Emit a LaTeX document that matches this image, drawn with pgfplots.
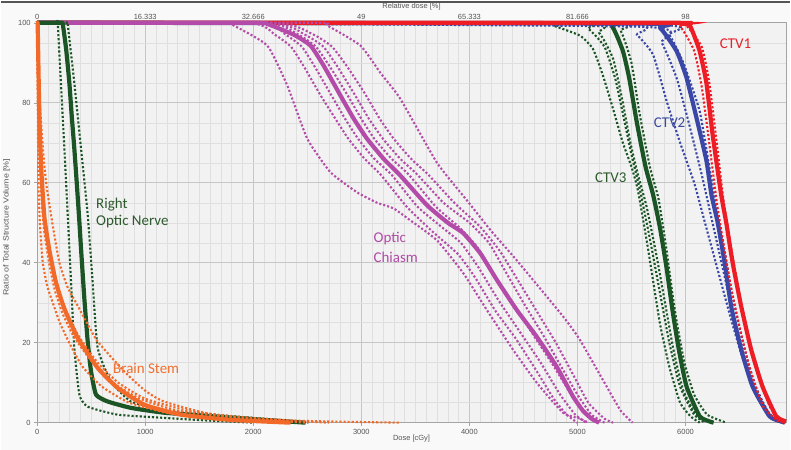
\documentclass[border=0pt]{standalone}
\usepackage{pgfplots}
\pgfplotsset{compat=1.18}
\usepackage{fontspec}
\setmainfont{Liberation Sans}
\newfontfamily\calib{Carlito}
\definecolor{cred}{HTML}{EE1D25}
\definecolor{cblue}{HTML}{3A47A6}
\definecolor{cgreen}{HTML}{1B5425}
\definecolor{cmag}{HTML}{B44BA9}
\definecolor{corange}{HTML}{F26A2A}
\definecolor{bgout}{HTML}{F8F9F8}
\definecolor{bgplot}{HTML}{F1F2F1}
\definecolor{tickc}{HTML}{555555}
\definecolor{gmaj}{HTML}{C6C6C6}
\definecolor{gmin}{HTML}{DEDFDE}
\definecolor{frame}{HTML}{A4A4A4}
\definecolor{lgreen}{HTML}{2E5A2E}
\definecolor{lblue}{HTML}{3C4AA0}
\definecolor{lred}{HTML}{E8202A}
\definecolor{lmag}{HTML}{B04AA6}
\definecolor{lorange}{HTML}{F07030}
\pgfplotsset{
  mainline/.style={line width=4.2pt, smooth, tension=0.3, line join=round},
  var/.style={line width=2.1pt, dash pattern=on 2.1pt off 2.0pt, smooth, tension=0.3},
}
\tikzset{
  lab/.style={font=\calib\fontsize{15}{17}\selectfont, anchor=base west, inner sep=0pt},
  tl/.style={font=\fontsize{7.5}{8}\selectfont, color=tickc},
}
\begin{document}
\begin{tikzpicture}
\fill[bgout] (-36pt,-27pt) rectangle (755pt,423pt);
\draw[color=tickc, line width=2pt] (-36pt,422pt) -- (755pt,422pt);
\begin{axis}[at={(0,0)}, anchor=south west, scale only axis,
  width=751pt, height=401pt,
  xmin=0, xmax=6930, ymin=0, ymax=100,
  axis background/.style={fill=bgplot},
  grid=both,
  major grid style={color=gmaj, line width=0.6pt},
  minor grid style={color=gmin, line width=0.4pt},
  minor x tick num=9, minor y tick num=3,
  xtick={0,1000,...,6000}, ytick={0,20,...,100},
  xtick pos=left, ytick pos=left,
  tick align=outside, major tick length=3pt, minor tick length=0pt,
  tick style={color=frame, line width=0.5pt},
  axis line style={color=frame, line width=0.8pt},
  ticklabel style={tl},
  /pgf/number format/assume math mode=true,
  /pgf/number format/1000 sep={},
  xlabel={Dose [cGy]}, ylabel={\scalebox{1.18}[1]{Ratio of Total Structure Volume [\%]}},
  label style={tl},
  xlabel style={at={(axis description cs:0.5,-0.04)}, anchor=center},
  ylabel style={at={(axis description cs:-0.0405,0.489)}, anchor=center},
  clip=false,
]
% ---------------- CTV3 ----------------
\addplot[var, cgreen] coordinates {(0,100)(4650,99.8)(4774,99.3)(5023,96.8)(5143,93.5)(5236,86.8)(5328,78.6)(5420,70)(5500,64)(5560,58)(5650,44)(5762,25)(5850,14)(5950,5)(6050,1.5)(6131,0)};
\addplot[var, cgreen] coordinates {(0,100)(4900,99.8)(5100,98.5)(5250,94)(5350,86)(5430,76)(5500,67)(5580,58)(5670,46)(5760,33)(5850,20)(5950,9)(6080,2)(6180,0)};
\addplot[var, cgreen] coordinates {(0,100)(5000,99.8)(5200,97.5)(5330,91)(5420,80)(5490,70)(5560,62)(5640,54)(5730,42)(5810,30)(5890,18)(5980,8)(6100,2)(6250,0)};
\addplot[var, cgreen] coordinates {(0,100)(5250,99.8)(5400,98)(5500,90)(5570,78)(5670,64)(5750,56)(5820,44)(5880,32)(5920,25)(5990,15)(6080,7)(6200,2)(6377,0)};
\addplot[mainline, cgreen] coordinates {(0,100)(5150,99.9)(5316,99.3)(5420,93)(5480,86)(5550,75)(5630,64)(5700,57)(5762,49)(5823,39)(5880,28)(5940,18)(6010,9)(6131,1.6)(6224,0.3)(6260,0)};
% ---------------- CTV2 ----------------
\addplot[var, cblue] coordinates {(0,100)(5400,99.5)(5550,97)(5700,92)(5830,80)(5950,70)(6080,60)(6180,50)(6300,38)(6420,26)(6530,16)(6650,7)(6780,1.5)(6880,0)};
\addplot[var, cblue] coordinates {(0,100)(5600,99)(5780,95)(5920,86)(6030,75)(6150,62)(6250,50)(6350,38)(6450,26)(6560,15)(6680,6)(6820,1)(6900,0)};
\addplot[var, cblue] coordinates {(0,100)(5700,99.5)(5850,97)(5980,90)(6130,78)(6220,64)(6290,53)(6360,43)(6440,31)(6540,19)(6650,9)(6780,2)(6900,0)};
\addplot[mainline, cblue] coordinates {(0,100)(5600,99.8)(5762,98.8)(5916,93)(6008,86.4)(6100,76.4)(6193,65.6)(6240,57)(6298,50)(6362,40)(6423,29)(6516,18.2)(6621,9)(6777,1.6)(6885,0.3)(6920,0)};
% ---------------- CTV1 ----------------
\addplot[var, cred] coordinates {(0,100)(5750,100)(5950,99)(6080,93)(6150,84)(6210,72)(6290,55)(6350,45)(6420,34)(6500,24)(6600,13)(6720,4)(6850,0.5)(6920,0)};
\addplot[var, cred] coordinates {(0,100)(5850,100)(6000,99.5)(6150,94)(6220,85)(6280,72)(6350,56)(6420,44)(6500,32)(6580,22)(6680,12)(6780,4)(6900,0.3)(6930,0)};
\addplot[mainline, cred] coordinates {(0,100)(5800,100)(5950,99.8)(6040,99.3)(6130,93)(6193,85)(6251,72)(6330,57)(6377,50)(6436,40)(6516,29)(6608,18.2)(6713,9)(6839,1.6)(6930,0.3)};
% ---------------- Optic Chiasm ----------------
\addplot[var, cmag] coordinates {(0,100)(1700,100)(1820,99.3)(2130,94.3)(2315,84.3)(2500,71)(2715,62.6)(2961,57.6)(3146,55)(3297,53.6)(3453,50.6)(3700,45.6)(3943,37.4)(4161,28.2)(4405,18.2)(4623,10)(4866,2.5)(5023,1)(5100,0)};
\addplot[var, cmag] coordinates {(0,100)(1950,100)(2200,97)(2350,94)(2470,89)(2620,82)(2760,76)(2880,71)(3030,66)(3180,62)(3420,54)(3650,48)(3900,42)(4060,36)(4240,28)(4430,21)(4620,13)(4780,6)(4900,2)(5000,0)};
\addplot[var, cmag] coordinates {(0,100)(2050,100)(2300,97)(2450,94)(2570,89)(2720,82)(2850,76)(2970,71)(3120,66)(3280,62)(3520,54)(3740,49)(3920,45)(4080,39)(4260,31)(4460,23)(4660,15)(4840,7)(4980,2)(5080,0)};
\addplot[var, cmag] coordinates {(0,100)(2100,100)(2420,97)(2580,94)(2710,89)(2870,82)(3000,76)(3120,71)(3280,66)(3440,62)(3690,54)(3900,49)(4070,44)(4230,37)(4400,30)(4590,22)(4760,15)(4920,8)(5060,3)(5200,0)};
\addplot[var, cmag] coordinates {(0,100)(2150,100)(2480,97)(2650,94)(2780,89)(2940,82)(3070,76)(3200,71)(3360,66)(3520,62)(3760,55)(4000,50)(4180,45)(4330,38)(4500,30)(4680,22)(4850,14)(5000,7)(5130,2)(5250,0)};
\addplot[var, cmag] coordinates {(0,100)(2200,100)(2560,97)(2730,94)(2870,89)(3040,82)(3170,76)(3300,71)(3460,66)(3620,62)(3860,55)(4100,49)(4280,43)(4440,36)(4620,28)(4800,20)(4960,12)(5100,5)(5250,1)(5330,0)};
\addplot[var, cmag] coordinates {(0,100)(2550,100)(2684,99.3)(2992,94.3)(3176,87.5)(3361,81)(3700,65)(3977,55.6)(4200,48)(4438,40.6)(4869,26.5)(5023,20.7)(5250,10)(5400,3)(5510,0)};
\addplot[mainline, cmag] coordinates {(0,100)(2000,100)(2130,99.7)(2376,97)(2530,94.3)(2651,89.3)(2807,81.8)(2930,76)(3053,71)(3206,66)(3361,61.8)(3607,54.4)(3800,50)(3943,47.4)(4100,42.4)(4254,35.7)(4438,28.2)(4623,21.5)(4808,14)(4958,6.6)(5050,3)(5130,1)(5200,0)};
% ---------------- Right Optic Nerve ----------------
\addplot[var, cgreen] coordinates {(0,100)(180,100)(191,99.5)(252,68.6)(283,51.9)(314,35.2)(344,18.7)(391,7)(468,4)(745,2)(1173,1.2)(1600,0.5)(2000,0)};
\addplot[var, cgreen] coordinates {(0,100)(270,100)(283,99.5)(344,85)(406,68.6)(468,52)(514,35)(560,18.7)(683,10.3)(868,5.3)(1173,3.2)(1634,2)(2222,0.7)(2510,0)};
\addplot[mainline, cgreen] coordinates {(0,100)(220,100)(237,99.7)(268,93.5)(298,85)(320,76.8)(344,68.6)(366,60.2)(391,50.2)(406,43.6)(437,31)(468,20.3)(499,12.8)(545,7)(652,5.3)(868,3.7)(1173,2.5)(1634,1.6)(2096,0.7)(2484,0)};
% ---------------- Brain Stem ----------------
\addplot[var, corange] coordinates {(0,100)(3,90)(7,75)(12,60)(25,50)(52,40)(95,34)(145,30)(210,25)(297,20)(420,14)(600,9)(850,5)(1200,2.5)(1700,1)(2300,0)};
\addplot[var, corange] coordinates {(0,100)(4,94)(10,80)(20,68)(38,57)(65,48)(110,40)(165,33)(240,27)(340,21.5)(500,15.5)(700,10)(950,6)(1300,3)(1900,1)(2500,0)};
\addplot[var, corange] coordinates {(0,100)(6,92)(15,78)(28,66)(50,56)(85,47)(135,40)(200,33)(290,26.5)(400,21)(560,15)(750,10)(1000,6)(1400,3)(2000,1)(2700,0)};
\addplot[var, corange] coordinates {(0,100)(10,92)(30,78)(55,68)(83,60)(140,50)(206,40)(280,34)(360,30)(460,25)(560,20.3)(806,12.8)(1000,8)(1173,5.3)(1634,2)(2400,0.5)(3361,0)};
\addplot[mainline, corange] coordinates {(0,100)(5,99.5)(12,89)(21,76.4)(37,64)(67,51.4)(114,43)(175,35)(252,28.5)(376,21.2)(560,13.7)(745,8.7)(991,4.5)(1330,2)(1791,0.7)(2345,0)};
% ---------------- labels ----------------
\node[lab, color=lgreen] at (axis cs:545,53.6) {Right};
\node[lab, color=lgreen] at (axis cs:545,49.4) {Optic Nerve};
\node[lab, color=lorange] at (axis cs:702,12.2) {Brain Stem};
\node[lab, color=lmag] at (axis cs:3112,45.1) {Optic};
\node[lab, color=lmag] at (axis cs:3112,40.1) {Chiasm};
\node[lab, color=lgreen] at (axis cs:5162,60.1) {CTV3};
\node[lab, color=lblue] at (axis cs:5706,73.8) {CTV2};
\node[lab, color=lred] at (axis cs:6316,93.5) {CTV1};
\end{axis}
\begin{axis}[at={(0,0)}, anchor=south west, scale only axis,
  width=751pt, height=401pt,
  xmin=0, xmax=6930, ymin=0, ymax=100,
  axis x line*=top, axis y line=none,
  axis line style={draw=none},
  xtick={0,1000,...,6000},
  xticklabels={0,16.333,32.666,49,65.333,81.666,98},
  major tick length=0pt,
  ticklabel style={tl},
  xlabel={Relative dose [\%]},
  label style={tl},
  xlabel style={at={(axis description cs:0.5,1.04)}, anchor=center},
]
\end{axis}
\end{tikzpicture}
\end{document}
